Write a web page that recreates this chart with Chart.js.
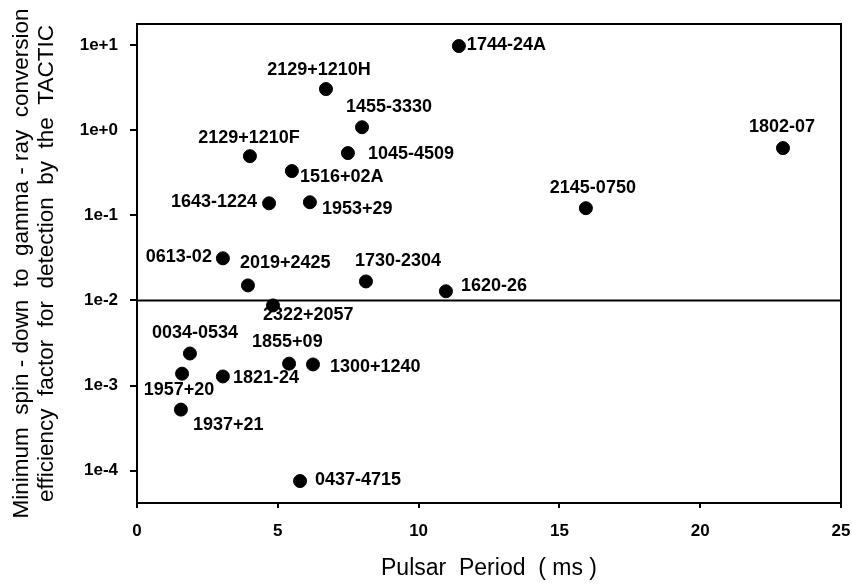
<!DOCTYPE html>
<html>
<head>
<meta charset="utf-8">
<script src="https://cdn.jsdelivr.net/npm/chart.js@4.4.0/dist/chart.umd.min.js"></script>
<style>
  html, body { margin: 0; padding: 0; background: #fff; }
</style>
</head>
<body>
<canvas id="chart" width="852" height="584"></canvas>
<script>
// Pulsars, period (ms) and minimum spin-down -> gamma-ray efficiency
const pulsars = [
  '1744-24A', '2129+1210H', '1455-3330', '1045-4509', '2129+1210F', '1516+02A',
  '1643-1224', '1953+29', '1802-07', '2145-0750', '0613-02', '2019+2425',
  '2322+2057', '1730-2304', '1620-26', '0034-0534', '1855+09', '1300+1240',
  '1957+20', '1821-24', '1937+21', '0437-4715'
];
const periods = [
  11.43, 6.71, 7.99, 7.49, 4.01, 5.50,
  4.69, 6.14, 22.94, 15.94, 3.05, 3.94,
  4.83, 8.13, 10.97, 1.88, 5.40, 6.25,
  1.60, 3.05, 1.56, 5.79
];
const efficiencies = [
  9.7, 3.03, 1.08, 0.537, 0.494, 0.33,
  0.138, 0.142, 0.614, 0.121, 0.0312, 0.015,
  0.00873, 0.0167, 0.0128, 0.00238, 0.00181, 0.00177,
  0.00138, 0.00128, 0.000522, 0.0000757
];
const threshold = 0.01;
const yDecades = [1e-4, 1e-3, 1e-2, 1e-1, 1, 10];

// where each name sits next to its dot: [align, dx, dy]
const labelPlace = [
  ['left', 8, -1], ['center', -7, -19], ['center', 27, -20], ['left', 20, 1], ['center', -1, -18], ['left', 8, 6],
  ['right', -12, -1], ['left', 12, 7], ['center', -1, -21], ['center', 7, -20], ['right', -11, -1], ['left', -8, -22],
  ['left', -10, 10], ['center', 32, -20], ['left', 15, -5], ['center', 5, -20], ['left', -37, -22], ['left', 17, 3],
  ['center', -3, 16], ['left', 10, 2], ['left', 12, 15], ['left', 15, -1]
];

const FONT = '"Liberation Sans", Arial, sans-serif';

const frameAndNames = {
  id: 'frameAndNames',
  afterDatasetsDraw(chart) {
    const { ctx, chartArea: a } = chart;
    ctx.save();
    ctx.strokeStyle = '#000';
    ctx.lineWidth = 2;
    ctx.strokeRect(a.left, a.top, a.right - a.left, a.bottom - a.top);

    ctx.font = 'bold 18px ' + FONT;
    ctx.fillStyle = '#000';
    ctx.textBaseline = 'middle';
    chart.getDatasetMeta(0).data.forEach((pt, i) => {
      const [align, dx, dy] = labelPlace[i];
      ctx.textAlign = align;
      ctx.fillText(pulsars[i], pt.x + dx, pt.y + dy);
    });
    ctx.restore();
  }
};

new Chart(document.getElementById('chart'), {
  type: 'scatter',
  data: {
    datasets: [
      {
        data: periods.map((p, i) => ({ x: p, y: efficiencies[i] })),
        backgroundColor: '#000',
        borderColor: '#000',
        pointRadius: 6.5,
      },
      {
        type: 'line',
        data: [{ x: 0, y: threshold }, { x: 25, y: threshold }],
        borderColor: '#000',
        borderWidth: 2,
        pointRadius: 0,
      },
    ],
  },
  options: {
    responsive: false,
    animation: false,
    layout: { padding: { left: 0, top: 24, right: 0, bottom: 0 } },
    plugins: { legend: { display: false }, tooltip: { enabled: false } },
    scales: {
      x: {
        type: 'linear', min: 0, max: 25,
        ticks: { stepSize: 5, autoSkip: false, color: '#000', padding: 13, font: { family: FONT, size: 17, weight: 'bold' } },
        grid: { drawOnChartArea: false, tickLength: 5, color: '#000', lineWidth: 2 },
        border: { color: '#000', width: 2 },
        title: { display: true, text: 'Pulsar  Period  ( ms )', color: '#000', padding: { top: 0, bottom: 2 }, font: { family: FONT, size: 23 } },
        afterFit: s => { s.height = 81; s.paddingRight = 11; s.paddingLeft = 0; },
      },
      y: {
        type: 'logarithmic', min: 4.18e-5, max: 17.6,
        afterBuildTicks: s => { s.ticks = yDecades.map(v => ({ value: v })); },
        ticks: {
          autoSkip: false, color: '#000', padding: 12,
          font: { family: FONT, size: 17, weight: 'bold' },
          callback: v => { const e = Math.round(Math.log10(v)); return '1e' + (e < 0 ? '-' : '+') + Math.abs(e); },
        },
        grid: { drawOnChartArea: false, tickLength: 7, color: '#000', lineWidth: 2 },
        border: { color: '#000', width: 2 },
        title: {
          display: true,
          text: ['Minimum  spin - down  to  gamma - ray  conversion', 'efficiency  factor  for  detection  by  the  TACTIC'],
          color: '#000', padding: { top: 9, bottom: 0 }, font: { family: FONT, size: 22.5, lineHeight: 1.12 },
        },
        afterFit: s => { s.width = 137; },
      },
    },
  },
  plugins: [frameAndNames],
});
</script>
</body>
</html>
